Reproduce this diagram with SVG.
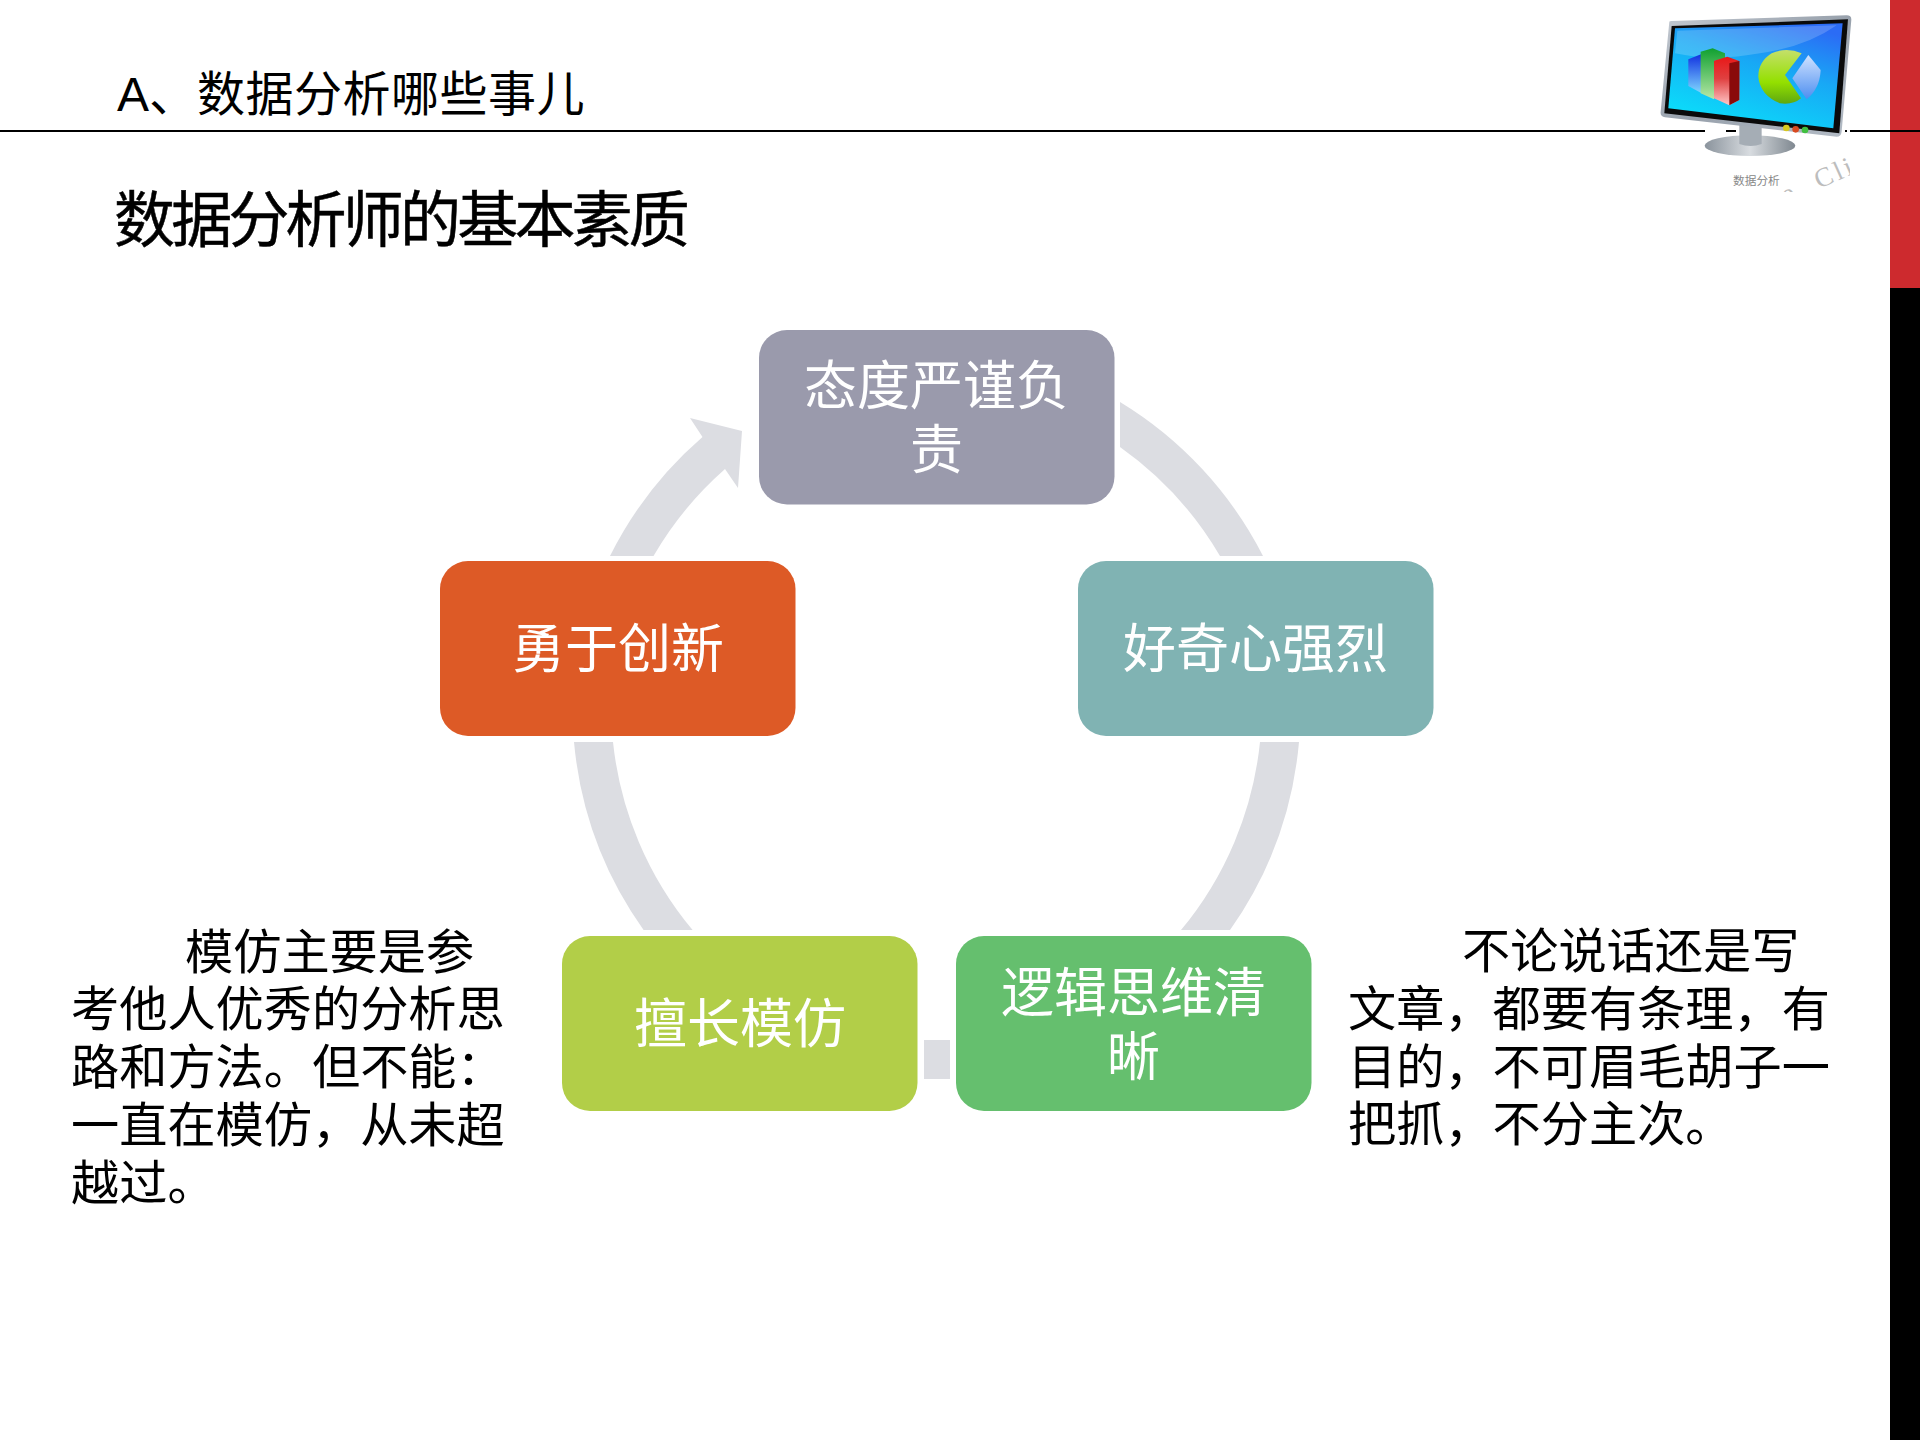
<svg xmlns="http://www.w3.org/2000/svg" width="1920" height="1440" viewBox="0 0 1920 1440">
<style>
text{font-family:"Liberation Sans","Noto Sans CJK SC",sans-serif}
.box text{fill:#fff;font-size:53px;text-anchor:middle}
.side{fill:#000;font-size:48.2px}
.conn{fill:#dcdde2}
</style>
<defs>
<linearGradient id="frame" x1="0" y1="0" x2="1" y2="1"><stop offset="0" stop-color="#c4cad2"/><stop offset=".5" stop-color="#98a1ac"/><stop offset="1" stop-color="#b4bcc6"/></linearGradient>
<linearGradient id="screen" x1=".75" y1="0" x2=".25" y2="1"><stop offset="0" stop-color="#2b6cf5"/><stop offset=".4" stop-color="#18a8f5"/><stop offset="1" stop-color="#0ae0fa"/></linearGradient>
<linearGradient id="base" x1="0" y1="0" x2="1" y2="0"><stop offset="0" stop-color="#8a939c"/><stop offset=".5" stop-color="#d8dce0"/><stop offset="1" stop-color="#7f8890"/></linearGradient>
<linearGradient id="pie" x1="0" y1="0" x2="0" y2="1"><stop offset="0" stop-color="#c4e06a"/><stop offset=".6" stop-color="#94e000"/><stop offset="1" stop-color="#5fa810"/></linearGradient>
<linearGradient id="slice" x1="0" y1="0" x2="0" y2="1"><stop offset="0" stop-color="#cfe2ff"/><stop offset="1" stop-color="#4d8ef0"/></linearGradient>
<linearGradient id="red" x1="0" y1="0" x2="0" y2="1"><stop offset="0" stop-color="#e81818"/><stop offset=".45" stop-color="#e04040"/><stop offset="1" stop-color="#ffc8c8"/></linearGradient>
<linearGradient id="green" x1="0" y1="0" x2="0" y2="1"><stop offset="0" stop-color="#10a030"/><stop offset="1" stop-color="#b8e8a8"/></linearGradient>
<linearGradient id="blue" x1="0" y1="0" x2="0" y2="1"><stop offset="0" stop-color="#1030e0"/><stop offset="1" stop-color="#80d8ff"/></linearGradient>
<clipPath id="wm"><rect x="1700" y="130" width="150" height="62"/></clipPath>
</defs>
<rect width="1920" height="1440" fill="#fff"/>
<g id="sidebar">
<rect x="1890" y="0" width="30" height="288" fill="#cd2a2e"/>
<rect x="1890" y="288" width="30" height="1152" fill="#000"/>
</g>
<g id="rule"><path d="M0 131H1705M1726 131H1736M1845 131H1847M1850 131H1920" stroke="#000" stroke-width="2" fill="none"/></g>
<g id="titles">
<text x="117" y="111" font-size="48" fill="#000">A、<tspan letter-spacing=".5">数据分析哪些事儿</tspan></text>
<text x="114" y="242" font-size="61" letter-spacing="-3.8" fill="#000" stroke="#000" stroke-width=".5">数据分析师的基本素质</text>
</g>
<g id="monitor" transform="translate(1620 0) scale(.3333)">
<ellipse cx="390" cy="437" rx="136" ry="31" fill="url(#base)"/>
<path d="M358 375H425V432Q392 444 358 432Z" fill="#a5adb5"/>
<path d="M148 65Q148 64 155 63L680 46Q695 46 694 60L665 395Q663 410 650 410L135 352Q120 350 122 335Z" fill="url(#frame)"/>
<path d="M155 78L684 58L658 400L133 340Z" fill="#0a0a0a"/>
<path d="M165 85L668 70L640 385L145 325Z" fill="url(#screen)"/>
<path d="M172 92L650 76Q560 140 420 160Q280 185 165 160Z" fill="#fff" fill-opacity=".18"/>
<path d="M205 178L245 162V280L205 258Z" fill="url(#blue)"/>
<path d="M242 155L278 145L315 160V175L282 182V298L242 280Z" fill="url(#green)"/>
<path d="M282 182L322 170L358 183V300L328 316L282 295Z" fill="url(#red)"/>
<path d="M328 190L358 183V300L328 316Z" fill="#8a0a0a"/>
<path d="M545 160Q500 140 455 160Q415 185 415 230Q420 285 480 310Q520 315 543 295L495 225Z" fill="url(#pie)"/>
<path d="M565 165L602 210Q600 265 560 298L517 235Z" fill="url(#slice)"/>
<circle cx="499" cy="384" r="10" fill="#d8c820"/><circle cx="527" cy="388" r="10" fill="#d84a20"/><circle cx="555" cy="390" r="10" fill="#40c040"/>
</g>
<g id="monitor-caption">
<text x="1733" y="185" font-size="11.7" fill="#888">数据分析</text>
<g clip-path="url(#wm)" fill="#bdbdbd">
<text transform="translate(1819 189) rotate(-24)" style="font-family:'Liberation Serif',serif" font-size="27" fill="#bdbdbd" letter-spacing="3">Cli</text>
<text transform="translate(1786 204) rotate(-24)" style="font-family:'Liberation Serif',serif" font-size="27" fill="#bdbdbd">e</text>
</g>
</g>
<g id="connectors" class="conn">
<path d="M610 556A385 385 0 0 1 702.500 437L690 418L742 431L738 488L725 469A350 350 0 0 0 653.500 556Z"/>
<path d="M1120 402A385 385 0 0 1 1263 556H1220A350 350 0 0 0 1120 447Z"/>
<path d="M1299 742A385 385 0 0 1 1230 930H1181A350 350 0 0 0 1260 742Z"/>
<rect x="924" y="1040" width="26" height="39"/>
<path d="M643.600 930A385 385 0 0 1 574 742H613A350 350 0 0 0 692.600 930Z"/>
</g>
<g id="node-top" class="box"><rect x="759" y="330" width="355.500" height="174.500" rx="28" fill="#9a9aac"/><text x="936.500" y="405">态度严谨负</text><text x="936.500" y="469">责</text></g>
<g id="node-right" class="box"><rect x="1078" y="561" width="355.500" height="175" rx="28" fill="#80b3b3"/><text x="1255.500" y="668">好奇心强烈</text></g>
<g id="node-bottom-right" class="box"><rect x="956" y="936" width="355.500" height="175" rx="28" fill="#65bf6e"/><text x="1133.500" y="1012">逻辑思维清</text><text x="1133.500" y="1076">晰</text></g>
<g id="node-bottom-left" class="box"><rect x="562" y="936" width="355.500" height="175" rx="28" fill="#b2ce48"/><text x="740" y="1043">擅长模仿</text></g>
<g id="node-left" class="box"><rect x="440" y="561" width="355.500" height="175" rx="28" fill="#dd5a26"/><text x="618" y="668">勇于创新</text></g>
<g id="note-left" class="side">
<text x="185" y="969">模仿主要是参</text>
<text x="71" y="1026">考他人优秀的分析思</text>
<text x="71" y="1084">路和方法。但不能：</text>
<text x="71" y="1142">一直在模仿，从未超</text>
<text x="71" y="1200">越过。</text>
</g>
<g id="note-right" class="side">
<text x="1462" y="968">不论说话还是写</text>
<text x="1348" y="1026">文章，都要有条理，有</text>
<text x="1348" y="1084">目的，不可眉毛胡子一</text>
<text x="1348" y="1141">把抓，不分主次。</text>
</g>
</svg>
